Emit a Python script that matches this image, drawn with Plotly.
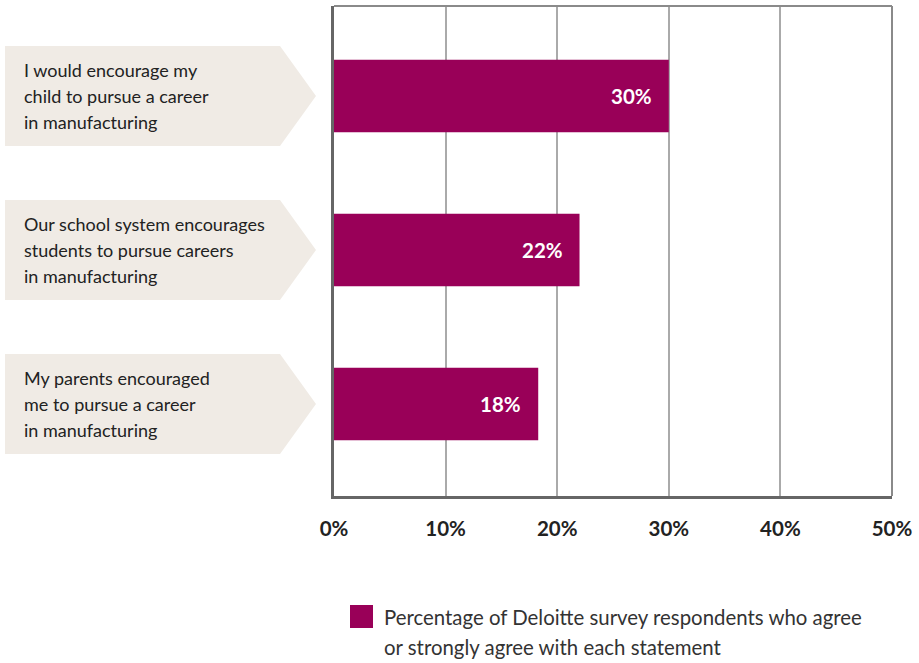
import plotly.graph_objects as go

categories = [
    "I would encourage my<br>child to pursue a career<br>in manufacturing",
    "Our school system encourages<br>students to pursue careers<br>in manufacturing",
    "My parents encouraged<br>me to pursue a career<br>in manufacturing",
]
values = [30, 22, 18.3]
tick_values = [0, 10, 20, 30, 40, 50]
tick_labels = ["0%", "10%", "20%", "30%", "40%", "50%"]
legend_label = "Percentage of Deloitte survey respondents who agree<br>or strongly agree with each statement"

BAR = "#990058"
BOX = "#F0EBE5"
TXT = "#222222"
FONT = "Lato"

W, H = 919, 663
L, R, T, B = 334, 27, 6, 167
PW = W - L - R
PH = H - T - B


def px(xp):
    return (xp - L) / PW


def py(yp):
    return (H - B - yp) / PH


idx = list(range(len(categories)))

fig = go.Figure()
fig.add_trace(go.Bar(
    x=values, y=idx, orientation="h", marker=dict(color=BAR, line=dict(width=0)),
    width=0.47, showlegend=False, hoverinfo="skip",
))

shapes = []
annotations = []

# label boxes (pentagon arrows)
for i, cat in enumerate(categories):
    h = 0.325
    x0, x1, xt = px(5), px(280), px(316)
    shapes.append(dict(
        type="path", xref="paper", yref="y",
        path=f"M {x0} {i-h} L {x1} {i-h} L {xt} {i} L {x1} {i+h} L {x0} {i+h} Z",
        fillcolor=BOX, line=dict(width=0), layer="below",
    ))
    lines = cat.split("<br>")
    n = len(lines)
    for k, ln in enumerate(lines):
        annotations.append(dict(
            text=ln, xref="paper", yref="y", x=px(22), y=i, xanchor="left",
            yanchor="middle", yshift=(n - 1) / 2 * 26 - k * 26, showarrow=False,
            font=dict(family=FONT, size=18, color=TXT),
        ))

# value labels
for i, v in enumerate(values):
    annotations.append(dict(
        text=f"<b>{round(v)}%</b>", x=v, y=i, xref="x", yref="y", xanchor="right",
        yanchor="middle", xshift=-15, showarrow=False,
        font=dict(family=FONT, size=20.5, color="white"),
    ))

# top and right borders
shapes.append(dict(type="line", xref="paper", yref="paper", x0=0, x1=1, y0=1, y1=1,
                   line=dict(color="#8a8a8a", width=2)))
shapes.append(dict(type="line", xref="paper", yref="paper", x0=1, x1=1, y0=0, y1=1,
                   line=dict(color="#8a8a8a", width=2)))

# legend
shapes.append(dict(type="rect", xref="paper", yref="paper",
                   x0=px(350), x1=px(373), y0=py(628), y1=py(605),
                   fillcolor=BAR, line=dict(width=0)))
for k, ln in enumerate(legend_label.split("<br>")):
    annotations.append(dict(
        text=ln, xref="paper", yref="paper", x=px(382), y=py(617 + 30 * k),
        xanchor="left", yanchor="middle", showarrow=False,
        font=dict(family=FONT, size=20.4, color="#333333"),
    ))

fig.update_layout(
    width=W, height=H, margin=dict(l=L, r=R, t=T, b=B),
    paper_bgcolor="white", plot_bgcolor="white",
    shapes=shapes, annotations=annotations,
    xaxis=dict(range=[0, 50], tickvals=tick_values, ticktext=tick_labels,
               showgrid=True, gridcolor="#aaaaaa", gridwidth=1.5,
               showline=True, linecolor="#666666", linewidth=3,
               zeroline=False, ticks="", ticklabelstandoff=12,
               tickfont=dict(family=FONT, size=20.5, color="#222222", weight="bold")),
    yaxis=dict(range=[2.597, -0.584], showticklabels=False, showgrid=False,
               showline=True, linecolor="#666666", linewidth=3, zeroline=False,
               ticks=""),
    bargap=0.5,
)

fig.write_html("out.html")
